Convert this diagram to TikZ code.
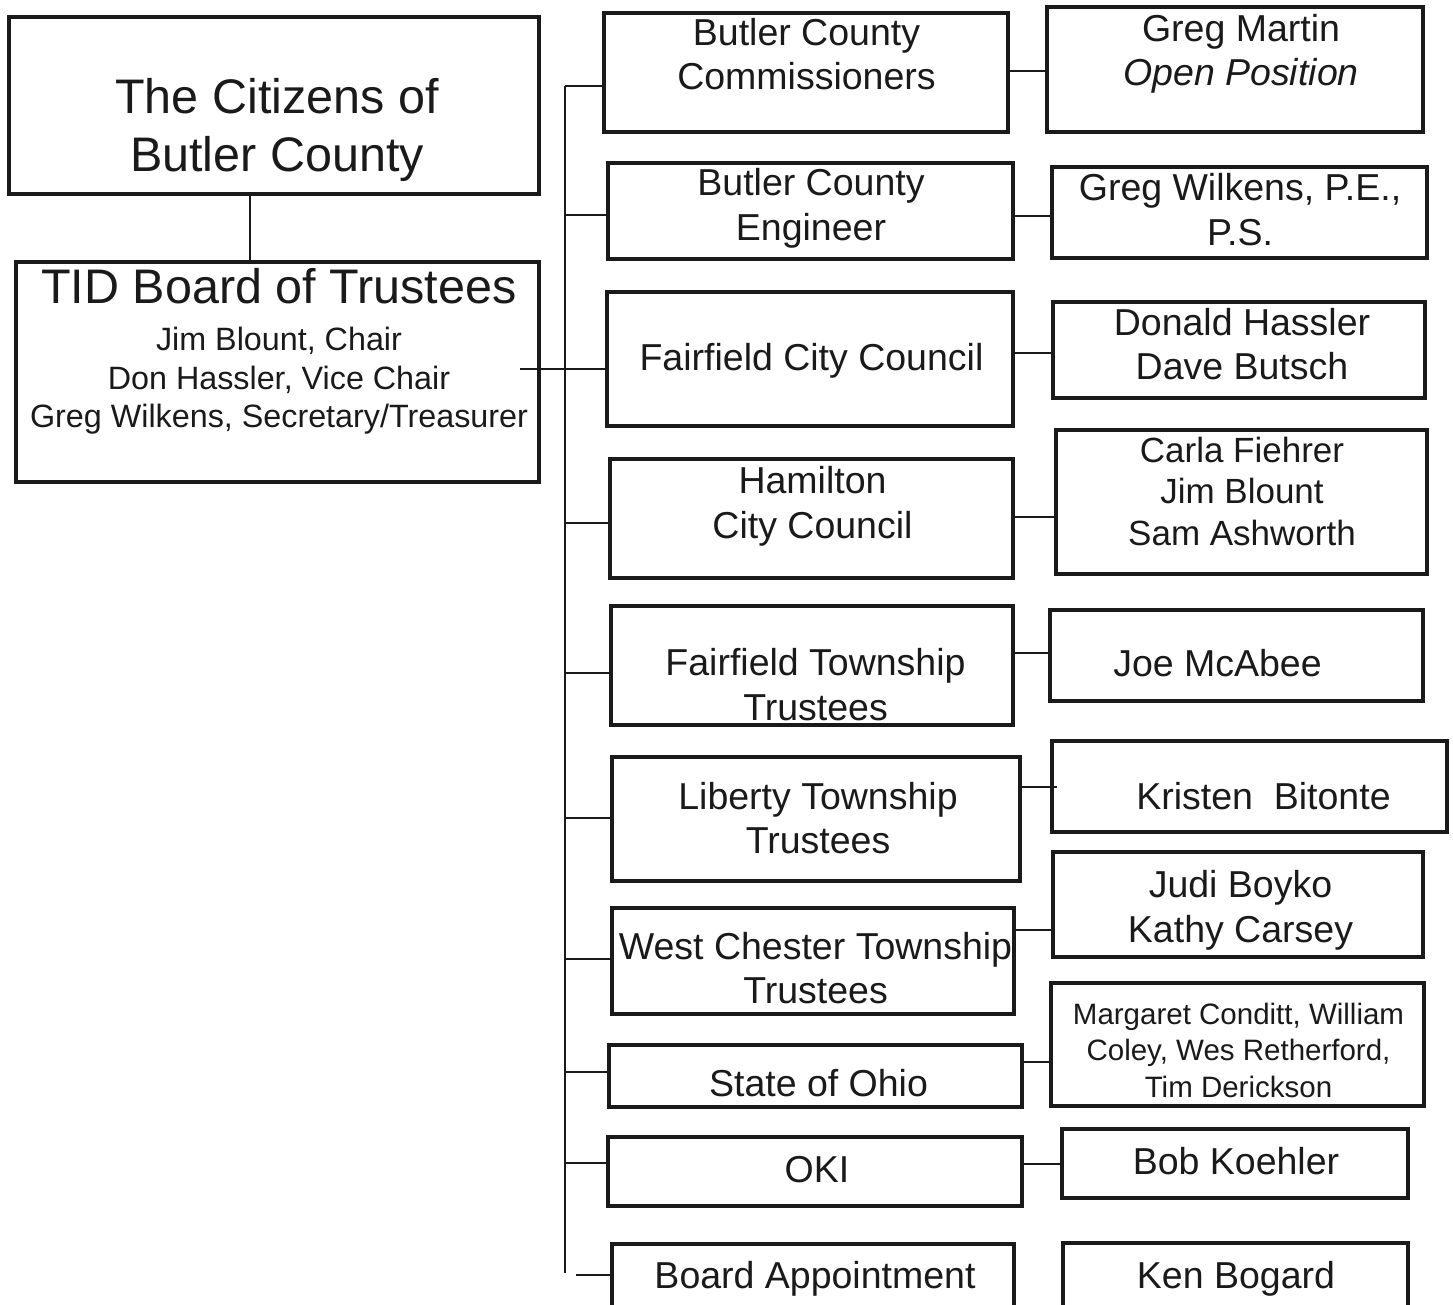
\documentclass[tikz,border=0pt]{standalone}
\usepackage{fontspec}
\setmainfont{Liberation Sans}
\definecolor{ink}{RGB}{26,26,26}
\tikzset{
  orgbox/.style={draw=ink, line width=4bp, inner sep=0pt},
  boxwh/.style 2 args={minimum width=#1bp, minimum height=#2bp},
  lbl/.style={text=ink, align=center, inner sep=0pt, font=\fontsize{37.5bp}{44.5bp}\selectfont},
  biglbl/.style={lbl, font=\fontsize{48.5bp}{58bp}\selectfont},
  namelbl/.style={lbl, font=\fontsize{32.3bp}{38.5bp}\selectfont},
  link/.style={draw=ink, line width=1.8bp},
}
\begin{document}
\begin{tikzpicture}[x=1bp, y=-1bp]
  \useasboundingbox (0,0) rectangle (1453,1305);
  \clip (0,0) rectangle (1453,1305);
  \fill[white] (0,0) rectangle (1453,1305);
  % citizens and the board
  \node[orgbox, boxwh={529.5}{177}] (cit) at (273.75,105.5) {};
  \node[biglbl] (cit-t) at (277,130) {The Citizens of\\Butler County};
  \node[orgbox, boxwh={523}{220}] (tid) at (277.5,372) {};
  \node[biglbl] (tid-t) at (279,286) {TID Board of Trustees};
  \node[namelbl] (tid-m) at (279,381) {Jim Blount, Chair\\Don Hassler, Vice Chair\\Greg Wilkens, Secretary/Treasurer};
  \draw[link] (cit.south -| 250,0) -- (tid.north -| 250,0);
  % member bodies
  \node[orgbox, boxwh={404}{119}] (bcc) at (806,72.5) {};
  \node[lbl] (bcc-t) at (806.5,54) {Butler County\\Commissioners};
  \node[orgbox, boxwh={405}{96}] (bce) at (810.5,211) {};
  \node[lbl] (bce-t) at (811,208.5) {Butler County\\Engineer};
  \node[orgbox, boxwh={406}{134}] (fcc) at (810,359) {};
  \node[lbl] (fcc-t) at (811.5,360.4) {Fairfield City Council};
  \node[orgbox, boxwh={403}{119}] (ham) at (811.5,518.5) {};
  \node[lbl] (ham-t) at (812.5,506.5) {Hamilton\\City Council};
  \node[orgbox, boxwh={402}{119}] (ftw) at (812,665.5) {};
  \node[lbl] (ftw-t) at (815.5,684.5) {Fairfield Township\\Trustees};
  \node[orgbox, boxwh={408}{124}] (lib) at (816,819) {};
  \node[lbl] (lib-t) at (818,818) {Liberty Township\\Trustees};
  \node[orgbox, boxwh={402}{106}] (wct) at (813,961) {};
  \node[lbl] (wct-t) at (815.5,968) {West Chester Township\\Trustees};
  \node[orgbox, boxwh={413}{62}] (soh) at (815.5,1076) {};
  \node[lbl] (soh-t) at (818.5,1083.5) {State of Ohio};
  \node[orgbox, boxwh={414}{69}] (oki) at (815,1171.5) {};
  \node[lbl] (oki-t) at (817,1169.5) {OKI};
  \node[orgbox, boxwh={402}{86}] (brd) at (813,1287) {};
  \node[lbl] (brd-t) at (815,1278.4) {Board Appointment};
  % representatives
  \node[orgbox, boxwh={376}{125}] (gm) at (1235,69.5) {};
  \node[lbl] (gm-t) at (1241,54) {Greg Martin\\\textit{Open Position}};
  \node[orgbox, boxwh={375}{91}] (gw) at (1239.5,212.5) {};
  \node[lbl] (gw-t) at (1240,209.5) {Greg Wilkens, P.E.,\\P.S.};
  \node[orgbox, boxwh={372}{96}] (dh) at (1239,350) {};
  \node[lbl] (dh-t) at (1242,344) {Donald Hassler\\Dave Butsch};
  \node[orgbox, boxwh={371}{144}] (cf) at (1241.5,502) {};
  \node[lbl, font=\fontsize{35bp}{41.5bp}\selectfont] (cf-t) at (1242,491) {Carla Fiehrer\\Jim Blount\\Sam Ashworth};
  \node[orgbox, boxwh={373}{91}] (jm) at (1236.5,655.5) {};
  \node[lbl] (jm-t) at (1217.5,663.5) {Joe McAbee};
  \node[orgbox, boxwh={395}{91}] (kb) at (1249.5,786.5) {};
  \node[lbl] (kb-t) at (1263.5,796.5) {Kristen\ \ Bitonte};
  \node[orgbox, boxwh={370}{105}] (jb) at (1238,904.5) {};
  \node[lbl] (jb-t) at (1240.5,910.5) {Judi Boyko\\Kathy Carsey};
  \node[orgbox, boxwh={373}{123}] (mc) at (1237.5,1044.5) {};
  \node[lbl, font=\fontsize{29.5bp}{36.5bp}\selectfont] (mc-t) at (1238.5,1050) {Margaret Conditt, William\\Coley, Wes Retherford,\\Tim Derickson};
  \node[orgbox, boxwh={346}{69}] (bk) at (1235,1163.5) {};
  \node[lbl] (bk-t) at (1236,1161.5) {Bob Koehler};
  \node[orgbox, boxwh={345}{87}] (kbg) at (1235.5,1286.5) {};
  \node[lbl] (kbg-t) at (1236,1278.4) {Ken Bogard};
  % trunk line and its branches
  \coordinate (trunk-top) at (565,86);
  \coordinate (trunk-bot) at (565,1273);
  \draw[link] (trunk-top) -- (trunk-bot);
  \draw[link] (tid.east |- 0,369) ++(-21,0) -- (fcc.west |- 0,369);
  \draw[link] (trunk-top |- 0,86) -- (bcc.west |- 0,86);
  \draw[link] (trunk-top |- 0,215) -- (bce.west |- 0,215);
  \draw[link] (trunk-top |- 0,523) -- (ham.west |- 0,523);
  \draw[link] (trunk-top |- 0,673) -- (ftw.west |- 0,673);
  \draw[link] (trunk-top |- 0,818) -- (lib.west |- 0,818);
  \draw[link] (trunk-top |- 0,959) -- (wct.west |- 0,959);
  \draw[link] (trunk-top |- 0,1072) -- (soh.west |- 0,1072);
  \draw[link] (trunk-top |- 0,1163) -- (oki.west |- 0,1163);
  \draw[link] (brd.west |- 0,1275) -- ++(-34,0);
  % links to the representatives
  \draw[link] (bcc.east |- 0,71) -- (gm.west |- 0,71);
  \draw[link] (bce.east |- 0,216) -- (gw.west |- 0,216);
  \draw[link] (fcc.east |- 0,353) -- (dh.west |- 0,353);
  \draw[link] (ham.east |- 0,517) -- (cf.west |- 0,517);
  \draw[link] (ftw.east |- 0,653) -- (jm.west |- 0,653);
  \draw[link] (lib.east |- 0,787) -- (kb.west |- 0,787) -- ++(7,0);
  \draw[link] (wct.east |- 0,930) -- (jb.west |- 0,930);
  \draw[link] (soh.east |- 0,1062) -- (mc.west |- 0,1062);
  \draw[link] (oki.east |- 0,1164) -- (bk.west |- 0,1164);
\end{tikzpicture}
\end{document}
